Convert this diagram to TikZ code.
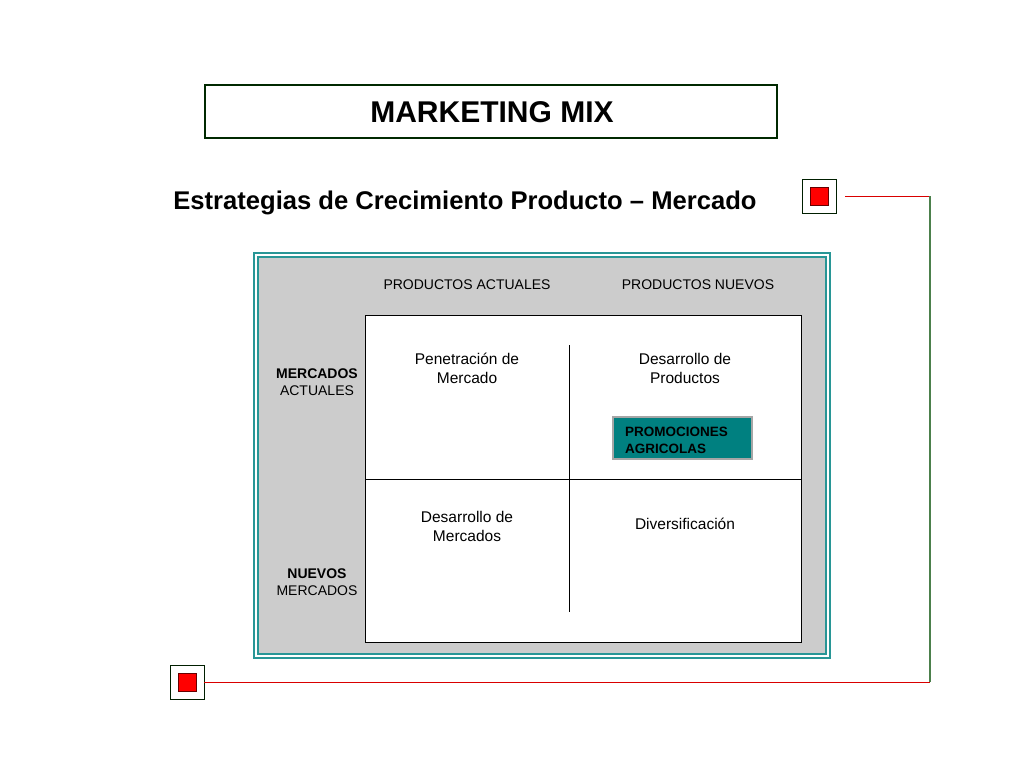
\documentclass[tikz,border=0pt]{standalone}
\usepackage{fontspec}
\setmainfont{Liberation Sans}
\definecolor{promoteal}{RGB}{0,128,128}
\definecolor{panelteal}{RGB}{40,150,150}
\begin{document}
\begin{tikzpicture}[x=1pt,y=-1pt,
  every node/.style={inner sep=0pt,outer sep=0pt},
  lbl/.style={font=\fontsize{14}{17}\selectfont,align=center},
  qlbl/.style={font=\fontsize{15.5}{19}\selectfont,align=center},
  redsq/.style={draw=black!60!green!30!black,line width=1pt,fill=white,minimum size=34pt},
  redin/.style={draw=red!40!black,line width=0.8pt,fill=red,minimum size=18pt},
  redline/.style={draw=red!85!black,line width=1pt},
  grnline/.style={draw=black!50!green!40!gray,line width=1.2pt}]
\useasboundingbox (0,0) rectangle (1024,768);
\fill[white] (0,0) rectangle (1024,768);
% title
\node[draw=black!60!green!40!black,line width=1.6pt,minimum width=572pt,minimum height=53pt] (title) at (491,111.5) {};
\node[font=\fontsize{30}{34}\selectfont\bfseries] (titletext) at (492,112) {MARKETING MIX};
\node[font=\fontsize{25.6}{30}\selectfont\bfseries] (sub) at (465,202.5) {Estrategias de Crecimiento Producto – Mercado};
% nav squares
\node[redsq] (navtr) at (819,196) {};
\node[redin] (navtrin) at (819,196) {};
\node[redsq] (navbl) at (187,682) {};
\node[redin] (navblin) at (187,682) {};
\coordinate (c1) at (930,196);
\coordinate (c2) at (930,682);
\draw[redline] ([xshift=9pt]navtr.east) -- (c1);
\draw[grnline] (c1) -- (c2);
\draw[redline] (c2) -- (navbl.east);
% panel
\node[draw=panelteal,line width=1.2pt,fill=white,minimum width=576pt,minimum height=405pt] (panelout) at (542,455.5) {};
\node[draw=panelteal,line width=1.2pt,fill=black!20,minimum width=568pt,minimum height=397pt] (panel) at (542,455.5) {};
\node[draw=black,line width=0.8pt,fill=white,minimum width=436pt,minimum height=327pt] (matrix) at (583,478.5) {};
\coordinate (hl) at (365,479);
\coordinate (hr) at (801,479);
\coordinate (vt) at (569,345);
\coordinate (vb) at (569,612);
\draw[line width=1pt] (hl) -- (hr);
\draw[line width=1pt] (vt) -- (vb);
% labels
\node[lbl] (pa) at (467,285) {PRODUCTOS ACTUALES};
\node[lbl] (pn) at (698,285) {PRODUCTOS NUEVOS};
\node[lbl] (ma) at (317,382) {\textbf{MERCADOS}\\ACTUALES};
\node[lbl] (nm) at (317,582) {\textbf{NUEVOS}\\MERCADOS};
\node[qlbl] (q1) at (467,368) {Penetración de\\Mercado};
\node[qlbl] (q2) at (685,368) {Desarrollo de\\Productos};
\node[qlbl] (q3) at (467,526) {Desarrollo de\\Mercados};
\node[qlbl] (q4) at (685,524) {Diversificación};
\node[draw=black!35,line width=2pt,fill=promoteal,minimum width=139pt,minimum height=42pt] (promo) at (682,437.5) {};
\node[anchor=west,align=left,font=\fontsize{13.5}{17}\selectfont\bfseries] (promotext) at (625,440.5) {PROMOCIONES\\AGRICOLAS};
\end{tikzpicture}
\end{document}
